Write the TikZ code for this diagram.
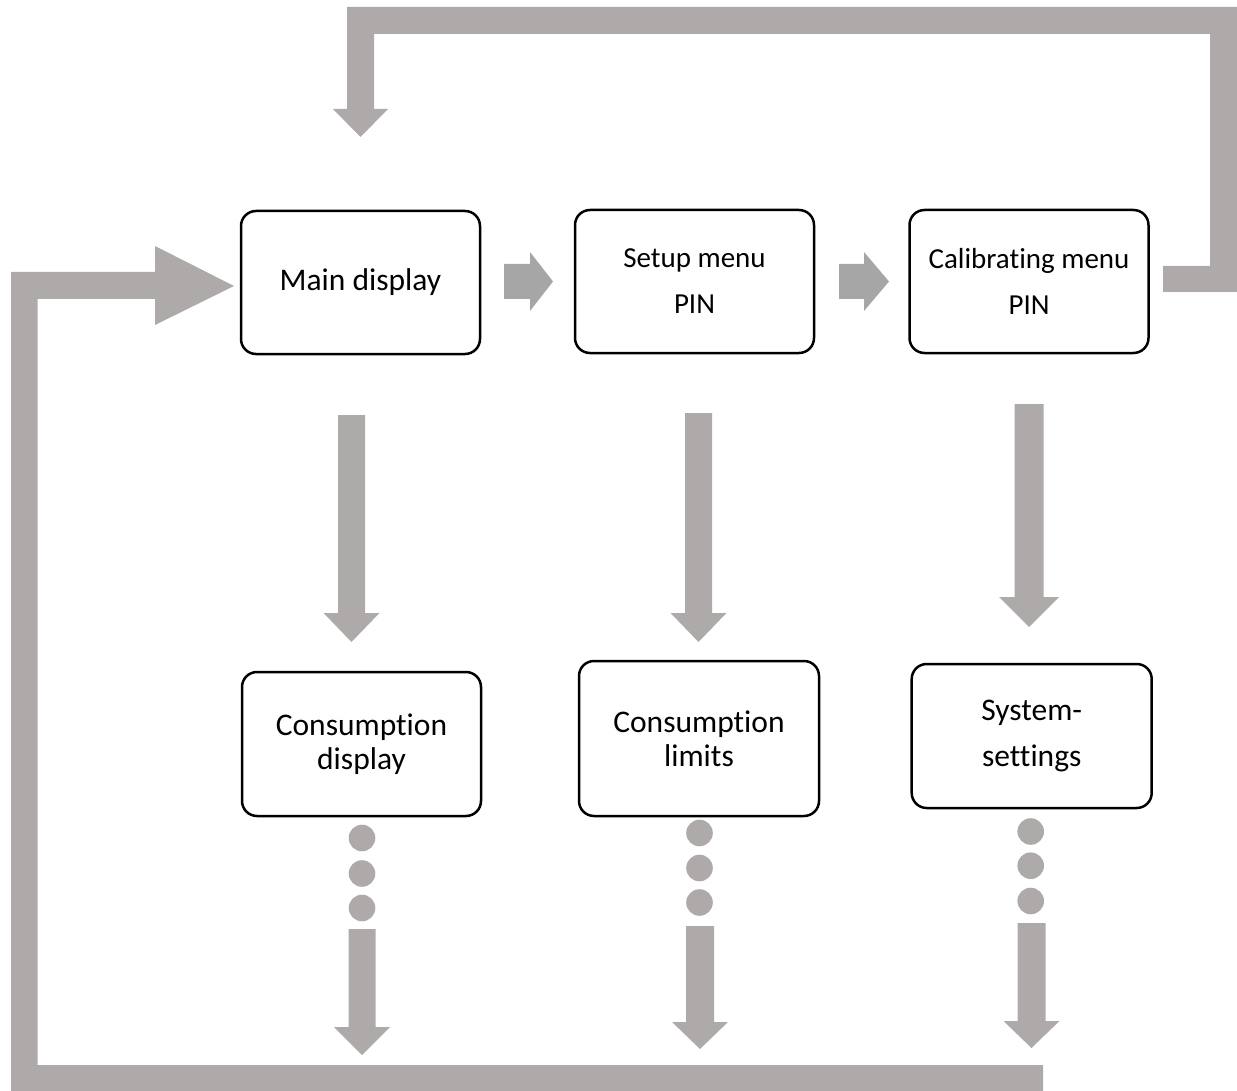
\documentclass[tikz,border=0pt]{standalone}
\usepackage{fontspec}
\setmainfont{Carlito}[Ligatures={NoCommon}]
\newcommand{\nl}{\kern0pt }% breaks the t-i ligature
\definecolor{loopgray}{RGB}{174,170,170}
\definecolor{stepgray}{RGB}{166,166,166}
% down block arrow: x, ytop, yhead, ytip, shaft half width, head half width
\newcommand{\DownBlock}[6]{%
  \fill[loopgray] (#1-#5,#2) -- (#1+#5,#2) -- (#1+#5,#3) -- (#1+#6,#3) -- (#1,#4)
    -- (#1-#6,#3) -- (#1-#5,#3) -- cycle;}
% right block arrow: xstart, xhead, xtip, ycenter, shaft half, head half
\newcommand{\RightBlock}[6]{%
  \fill[stepgray] (#1,#4-#5) -- (#2,#4-#5) -- (#2,#4-#6) -- (#3,#4) -- (#2,#4+#6)
    -- (#2,#4+#5) -- (#1,#4+#5) -- cycle;}
\newcommand{\Dots}[4]{%
  \fill[loopgray] (#1,#2) circle[radius=13.3];
  \fill[loopgray] (#1,#3) circle[radius=13.3];
  \fill[loopgray] (#1,#4) circle[radius=13.3];}
\begin{document}
\begin{tikzpicture}[x=1pt,y=-1pt,
  menubox/.style={draw=black, line width=2.5pt, rounded corners=15pt, fill=white,
    align=center, inner sep=0pt, minimum width=239pt, minimum height=143pt},
  bigfont/.style={font=\fontsize{31.5}{34}\selectfont},
  bigwide/.style={font=\fontsize{31.5}{46}\selectfont},
  smallwide/.style={font=\fontsize{29}{46}\selectfont}]
\useasboundingbox (0,0) rectangle (1237,1091);

% boxes
\node[menubox, bigfont] (main) at (360.5,282.5) {Main display};
\node[menubox, smallwide] (setup) at (694.5,281.5) {Setup menu\\PIN};
\node[menubox, smallwide] (calib) at (1029,281.5) {Calibrat\nl ing menu\\PIN};
\node[menubox, bigfont, minimum height=144pt] (consd) at (361.5,744) {Consumpt\nl ion\\display};
\node[menubox, bigfont, minimum width=240pt, minimum height=155pt] (consl) at (699,738.5) {Consumpt\nl ion\\limits};
\node[menubox, bigwide, minimum width=240pt, minimum height=144pt] (sys) at (1031.7,736) {System-\\sett\nl ings};

% top feedback loop: calibrating menu -> main display
\fill[loopgray] (360.5,137) -- (388,109) -- (374,109) -- (374,34) -- (1210,34)
  -- (1210,266) -- (1163,266) -- (1163,292) -- (1237,292) -- (1237,7)
  -- (347,7) -- (347,109) -- (333,109) -- cycle;

% bottom/left loop back into main display
\fill[loopgray] (234,286) -- (155,246) -- (155,272) -- (11,272) -- (11,1091)
  -- (1043,1091) -- (1043,1065) -- (37.5,1065) -- (37.5,299) -- (155,299)
  -- (155,325) -- cycle;

% small step arrows
\RightBlock{504}{530}{553}{281.5}{17.5}{29.5}
\RightBlock{839}{864}{889}{281.5}{17.5}{29.5}

% upper down arrows
\DownBlock{351.5}{415}{613}{642}{13.5}{28}
\DownBlock{698.5}{413}{613}{642}{13.5}{28}
\DownBlock{1029}{404}{597}{627}{14.5}{30}

% dots
\Dots{362}{838}{873.5}{908}
\Dots{699.5}{833}{868}{902.5}
\Dots{1030.7}{831.5}{865.7}{901}

% lower down arrows
\DownBlock{362}{929}{1027}{1055}{13.5}{28}
\DownBlock{700}{926}{1022}{1049}{14}{28}
\DownBlock{1031.5}{923}{1021}{1048}{14}{28}
\end{tikzpicture}
\end{document}
